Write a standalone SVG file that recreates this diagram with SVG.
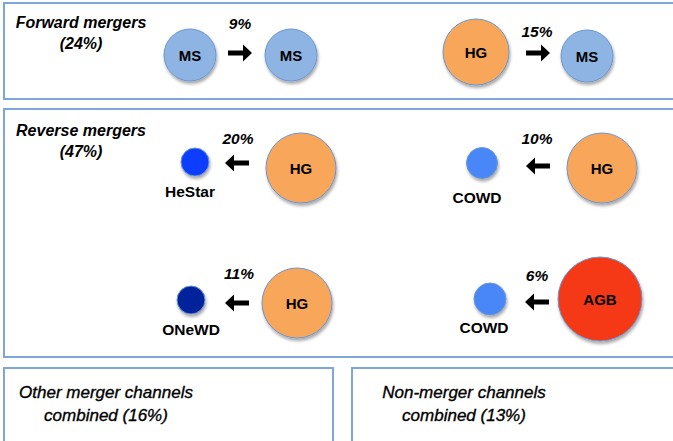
<svg xmlns="http://www.w3.org/2000/svg" width="673" height="441" viewBox="0 0 673 441">
<defs>
<filter id="sh" x="-30%" y="-30%" width="160%" height="170%">
<feDropShadow dx="1" dy="2.5" stdDeviation="1.5" flood-color="#000" flood-opacity="0.35"/>
</filter>
</defs>
<style>
.box{fill:#fff;stroke:#7ea6d8;stroke-width:2}
.lbl{font-family:"Liberation Sans",Arial,sans-serif;font-weight:bold;font-style:italic;font-size:16px;fill:#000;text-anchor:middle}
.sub{font-family:"Liberation Sans",Arial,sans-serif;font-style:italic;font-size:17px;fill:#000;stroke:#000;stroke-width:0.35;text-anchor:middle}
.pct{font-family:"Liberation Sans",Arial,sans-serif;font-weight:bold;font-style:italic;font-size:15.5px;fill:#000;text-anchor:middle}
.nt{font-family:"Liberation Sans",Arial,sans-serif;font-weight:bold;font-size:15px;fill:#000;text-anchor:middle}
.cap{font-family:"Liberation Sans",Arial,sans-serif;font-weight:bold;font-size:15.5px;fill:#000;text-anchor:middle}
.c{stroke:#6b96cf;stroke-width:1;filter:url(#sh)}
.ms{fill:#8eb4e3}
.hg{fill:#f8a65a}
.agb{fill:#f53818}
.he{fill:#0a3dff}
.co{fill:#4a87f8}
.one{fill:#00229a}
.arr{fill:#000}
</style>
<g id="boxes">
<rect class="box" x="4" y="3" width="680" height="96"/>
<rect class="box" x="4" y="109" width="680" height="248"/>
<rect class="box" x="4" y="368" width="329" height="80"/>
<rect class="box" x="352" y="368" width="330" height="80"/>
</g>
<g id="titles">
<text class="lbl" x="81" y="28">Forward mergers</text>
<text class="lbl" x="81" y="49">(24%)</text>
<text class="lbl" x="81" y="136">Reverse mergers</text>
<text class="lbl" x="81" y="157">(47%)</text>
<text class="sub" x="106" y="398">Other merger channels</text>
<text class="sub" x="106" y="421">combined (16%)</text>
<text class="sub" x="464" y="398">Non-merger channels</text>
<text class="sub" x="464" y="421">combined (13%)</text>
</g>
<g id="connectors">
<path class="arr" d="M228,50.5 H243 V44.5 L252,53 L243,61.5 V55.5 H228 Z"/>
<path class="arr" d="M526,50.5 H541 V44.5 L550,53 L541,61.5 V55.5 H526 Z"/>
<path class="arr" d="M249,160.5 H234 V154.5 L225,163 L234,171.5 V165.5 H249 Z"/>
<path class="arr" d="M550,163.5 H535 V157.5 L526,166 L535,174.5 V168.5 H550 Z"/>
<path class="arr" d="M249,300.5 H234 V294.5 L225,303 L234,311.5 V305.5 H249 Z"/>
<path class="arr" d="M549,299.5 H534 V293.5 L525,302 L534,310.5 V304.5 H549 Z"/>
<text class="pct" x="240" y="29">9%</text>
<text class="pct" x="537" y="37">15%</text>
<text class="pct" x="238" y="144">20%</text>
<text class="pct" x="537" y="144">10%</text>
<text class="pct" x="239" y="279">11%</text>
<text class="pct" x="537" y="281">6%</text>
</g>
<g id="n-ms1"><circle class="c ms" cx="190" cy="55" r="26"/><text class="nt" x="190" y="60.5">MS</text></g>
<g id="n-ms2"><circle class="c ms" cx="291" cy="55" r="26"/><text class="nt" x="291" y="60.5">MS</text></g>
<g id="n-hg1"><circle class="c hg" cx="476" cy="52" r="33"/><text class="nt" x="476" y="57.5">HG</text></g>
<g id="n-ms3"><circle class="c ms" cx="587" cy="56" r="26"/><text class="nt" x="587" y="61.5">MS</text></g>
<g id="n-hestar"><circle class="c he" cx="195" cy="162" r="14"/><text class="cap" x="190" y="197">HeStar</text></g>
<g id="n-hg2"><circle class="c hg" cx="301" cy="168" r="35"/><text class="nt" x="301" y="173.5">HG</text></g>
<g id="n-cowd1"><circle class="c co" cx="482" cy="163" r="15.5"/><text class="cap" x="477" y="203">COWD</text></g>
<g id="n-hg3"><circle class="c hg" cx="602" cy="168" r="35"/><text class="nt" x="602" y="173.5">HG</text></g>
<g id="n-onewd"><circle class="c one" cx="191" cy="300" r="14"/><text class="cap" x="191" y="335">ONeWD</text></g>
<g id="n-hg4"><circle class="c hg" cx="297" cy="303" r="35"/><text class="nt" x="297" y="308.5">HG</text></g>
<g id="n-cowd2"><circle class="c co" cx="490" cy="299" r="16"/><text class="cap" x="484" y="333">COWD</text></g>
<g id="n-agb"><circle class="c agb" cx="600" cy="299" r="42"/><text class="nt" x="600" y="304.5">AGB</text></g>
</svg>
